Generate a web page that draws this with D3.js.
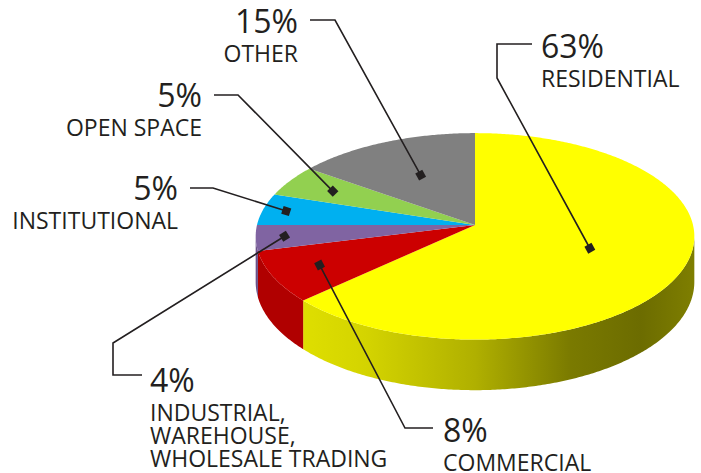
<!DOCTYPE html>
<html>
<head>
<meta charset="utf-8">
<script src="https://cdn.jsdelivr.net/npm/d3@7"></script>
<style>
  body { margin: 0; background: #fff; }
  svg { display: block; }
</style>
</head>
<body>
<div id="chart"></div>
<script>
// Data, clockwise from 12 o'clock
const categories = ["RESIDENTIAL", "COMMERCIAL", "INDUSTRIAL,\nWAREHOUSE,\nWHOLESALE TRADING", "INSTITUTIONAL", "OPEN SPACE", "OTHER"];
const values = [63, 8, 4, 5, 5, 15];
const pctLabels = ["63%", "8%", "4%", "5%", "5%", "15%"];

// Colours
const topColors = ["#ffff00", "#cc0000", "#8064a2", "#00b0f0", "#92d050", "#808080"];
const sideColors = ["url(#yellowSide)", "#b00000", "#6a5088", "#0090c8", "#76b040", "#686868"];

// Label placement (callout box position, elbow points, marker distance along radius)
const labelLayout = [
  {x: 541, y: 58, anchor: "start", elbow: [[532, 44], [497, 44], [497, 78]], t: 0.56},
  {x: 443, y: 442, anchor: "start", elbow: [[433, 428], [405, 428]], t: 0.78},
  {x: 150, y: 392, anchor: "start", elbow: [[142, 375], [113, 375], [113, 343]], t: 0.87},
  {x: 178, y: 200, anchor: "end", elbow: [[190, 188], [213, 188]], t: 0.89},
  {x: 202, y: 107, anchor: "end", elbow: [[214, 95], [238, 95]], t: 0.76},
  {x: 298, y: 33, anchor: "end", elbow: [[310, 20], [335, 20]], t: 0.58}
];

const width = 701, height = 473;
const cx = 475, cy = 225, rx = 218, ry = 102, k = 0.11, depth = 45;
const ink = "#231f20";

const svg = d3.select("#chart").append("svg")
  .attr("width", width)
  .attr("height", height);

const defs = svg.append("defs");
const grad = defs.append("linearGradient")
  .attr("id", "yellowSide")
  .attr("gradientUnits", "userSpaceOnUse")
  .attr("x1", cx - rx).attr("x2", cx + rx)
  .attr("y1", 0).attr("y2", 0);
[[0, "#e6e600"], [0.25, "#d4d400"], [0.5, "#b0b000"], [0.72, "#7a7a00"], [0.88, "#6c6c00"], [1, "#7e7e00"]]
  .forEach(([o, c]) => grad.append("stop").attr("offset", o).attr("stop-color", c));

// perspective projection of a point on the disc (angle clockwise from top, radius fraction, drop)
function proj(theta, t = 1, dz = 0) {
  const u = Math.sin(theta) * t, v = -Math.cos(theta) * t;
  const f = 1 / (1 - k * v);
  return [cx + rx * u * f, cy + ry * v * f + dz * f];
}
function arcPoints(a0, a1, dz = 0) {
  const n = Math.max(2, Math.ceil(Math.abs(a1 - a0) / 0.01));
  return d3.range(n + 1).map(i => proj(a0 + (a1 - a0) * i / n, 1, dz));
}

const pie = d3.pie().sort(null).value(d => d);
const arcs = pie(values);
const line = d3.line();

// Side walls (front half only)
const thetaS = Math.acos(-k);
const sides = svg.append("g");
arcs.forEach((a, i) => {
  const a0 = Math.max(a.startAngle, thetaS);
  const a1 = Math.min(a.endAngle, 2 * Math.PI - thetaS);
  if (a0 >= a1) return;
  const pts = arcPoints(a0, a1).concat(arcPoints(a1, a0, depth));
  sides.append("path")
    .attr("d", line(pts) + "Z")
    .attr("fill", sideColors[i]);
});

// Top faces
const tops = svg.append("g");
arcs.forEach((a, i) => {
  const pts = [[cx, cy]].concat(arcPoints(a.startAngle, a.endAngle));
  tops.append("path")
    .attr("d", line(pts) + "Z")
    .attr("fill", topColors[i]);
});

// Leader lines, markers and labels
const labels = svg.append("g");
arcs.forEach((a, i) => {
  const L = labelLayout[i];
  const mid = (a.startAngle + a.endAngle) / 2;
  const m = proj(mid, L.t);
  const pts = L.elbow.concat([m]);
  labels.append("path")
    .attr("d", line(pts))
    .attr("fill", "none")
    .attr("stroke", ink)
    .attr("stroke-width", 1.6);
  const p = pts[pts.length - 2];
  const ang = Math.atan2(m[1] - p[1], m[0] - p[0]) * 180 / Math.PI;
  labels.append("rect")
    .attr("x", -4).attr("y", -4)
    .attr("width", 8).attr("height", 8)
    .attr("fill", ink)
    .attr("transform", `translate(${m[0]},${m[1]}) rotate(${ang})`);

  const txt = labels.append("text")
    .attr("text-anchor", L.anchor)
    .attr("font-family", "'Open Sans', sans-serif")
    .attr("fill", ink);
  txt.append("tspan")
    .attr("x", L.x).attr("y", L.y)
    .attr("font-size", 32)
    .text(pctLabels[i]);
  categories[i].split("\n").forEach((s, j) => {
    txt.append("tspan")
      .attr("x", L.x).attr("y", L.y + 29 + j * 23)
      .attr("font-size", 23)
      .text(s);
  });
});
</script>
</body>
</html>
